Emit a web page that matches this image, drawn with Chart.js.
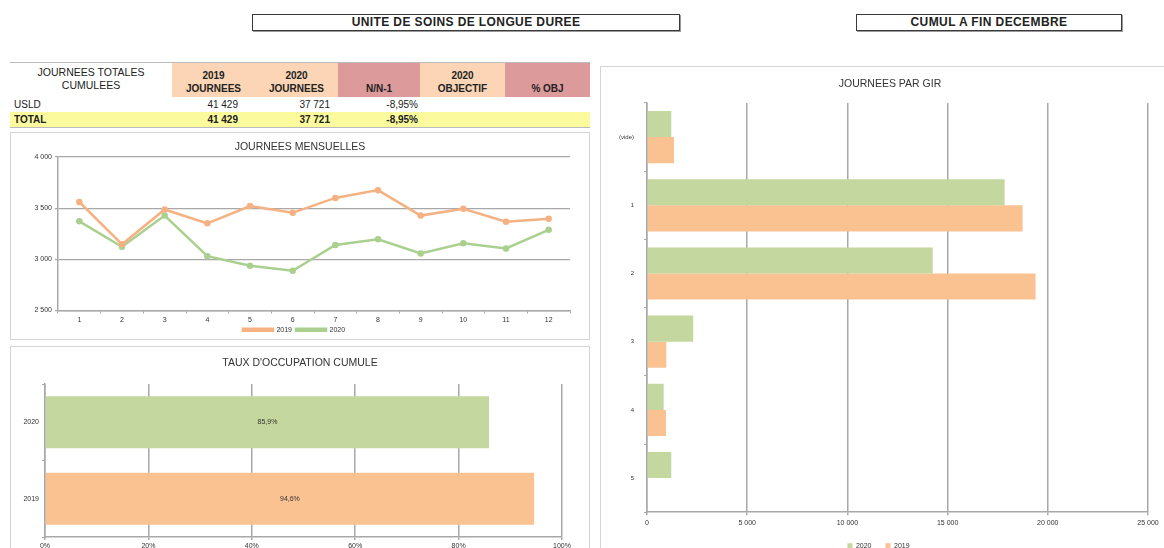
<!DOCTYPE html>
<html>
<head>
<meta charset="utf-8">
<script src="https://cdn.jsdelivr.net/npm/chart.js@4.4.0/dist/chart.umd.min.js"></script>
<style>
  body { margin:0; width:1164px; height:548px; overflow:hidden; background:#fff; font-family:"Liberation Sans", Arial, sans-serif; color:#222; }
  .hbox { position:absolute; top:14px; height:15px; border:1px solid #3a3a3a; box-shadow:1px 1px 0 #999; font-weight:bold; font-size:12px; letter-spacing:0.4px; line-height:15px; text-align:center; }
  .panel { position:absolute; border:1px solid #d4d4d4; background:#fff; }
  .panel canvas { position:absolute; left:0; top:0; }
  .ptitle { position:absolute; left:0; right:0; text-align:center; font-size:10.5px; color:#333; z-index:2; }
  table { position:absolute; left:10px; top:62px; width:580px; border-collapse:collapse; font-size:10px; border-top:1px solid #bbb; border-bottom:1px solid #bbb; }
  td { padding:0 4px; height:15px; line-height:13px; }
  .pe { background:#fbd5b5; }
  .ro { background:#dc9a9b; }
  .hd td { font-weight:bold; text-align:center; vertical-align:bottom; height:32px; padding-bottom:2px; }
  .num { text-align:right; }
  .c1 { padding-right:17px; }
  .c2 { padding-right:8px; }
  .c3 { padding-right:2px; }
  .tot td { background:#fbfb9e; font-weight:bold; }
</style>
</head>
<body>
<div class="hbox" style="left:252px;width:426px;">UNITE DE SOINS DE LONGUE DUREE</div>
<div class="hbox" style="left:856px;width:264px;">CUMUL A FIN DECEMBRE</div>

<table>
  <tr class="hd">
    <td style="width:154px;font-weight:normal;vertical-align:middle;font-size:10.5px;">JOURNEES TOTALES<br>CUMULEES</td>
    <td class="pe" style="width:75px;">2019<br>JOURNEES</td>
    <td class="pe" style="width:75px;">2020<br>JOURNEES</td>
    <td class="ro" style="width:74px;">N/N-1</td>
    <td class="pe" style="width:77px;">2020<br>OBJECTIF</td>
    <td class="ro">% OBJ</td>
  </tr>
  <tr><td>USLD</td><td class="num c1" id="u19"></td><td class="num c2" id="u20"></td><td class="num c3" id="uev"></td><td></td><td></td></tr>
  <tr class="tot"><td>TOTAL</td><td class="num c1" id="t19"></td><td class="num c2" id="t20"></td><td class="num c3" id="tev"></td><td></td><td></td></tr>
</table>

<div class="panel" style="left:10px;top:132px;width:578px;height:206px;">
  <div class="ptitle" style="top:7px;">JOURNEES MENSUELLES</div>
  <canvas id="lineChart"></canvas>
</div>

<div class="panel" style="left:10px;top:346px;width:578px;height:210px;">
  <div class="ptitle" style="top:9px;">TAUX D'OCCUPATION CUMULE</div>
  <canvas id="occChart"></canvas>
</div>

<div class="panel" style="left:600px;top:66px;width:578px;height:518px;">
  <div class="ptitle" style="top:10px;">JOURNEES PAR GIR</div>
  <canvas id="girChart"></canvas>
</div>

<script>
// monthly days
const months = ['1','2','3','4','5','6','7','8','9','10','11','12'];
const days2019 = [3560,3146,3487,3351,3520,3454,3600,3676,3427,3494,3368,3395];
const days2020 = [3371,3122,3427,3030,2937,2888,3139,3196,3057,3156,3106,3288];
const lineTicks = [2500,3000,3500,4000];

// totals in the table
const total2019 = 41429;
const total2020 = 37721;

// occupation rate
const occYears = ['2020','2019'];
const occRates = [85.9,94.6];
const occTicks = [0,20,40,60,80,100];

// days by GIR
const girLabels = ['(vide)','1','2','3','4','5'];
const gir2020 = [1211,17846,14257,2308,832,1211];
const gir2019 = [1346,18744,19392,963,947,37];
const girTicks = [0,5000,10000,15000,20000,25000];

const orange = '#f6b183', orangeBar = '#fac191';
const green = '#a9d08e', greenBar = '#c4d79e';
const gridCol = '#a8a8a8';
const tickFont = {size:7, family:'Liberation Sans, Arial'};

function fmt(n){ return String(n).replace(/\B(?=(\d{3})+(?!\d))/g,' '); }

const ev = ((total2020-total2019)/total2019*100).toFixed(2).replace('.',',')+'%';
document.getElementById('u19').textContent = fmt(total2019);
document.getElementById('u20').textContent = fmt(total2020);
document.getElementById('uev').textContent = ev;
document.getElementById('t19').textContent = fmt(total2019);
document.getElementById('t20').textContent = fmt(total2020);
document.getElementById('tev').textContent = ev;

Chart.defaults.font.family = 'Liberation Sans, Arial, sans-serif';
Chart.defaults.color = '#333';
Chart.defaults.animation = false;

function sizeCanvas(id, h){
  const c = document.getElementById(id);
  const p = c.parentElement;
  c.style.width = p.clientWidth+'px';
  c.style.height = (h || p.clientHeight)+'px';
  return c;
}

// line chart
new Chart(sizeCanvas('lineChart', 212),{
  type:'line',
  data:{
    labels:months,
    datasets:[
      {label:'2019', data:days2019, borderColor:orange, backgroundColor:orange, borderWidth:2.5, pointRadius:2, pointBackgroundColor:orange, tension:0},
      {label:'2020', data:days2020, borderColor:green, backgroundColor:green, borderWidth:2.5, pointRadius:2, pointBackgroundColor:green, tension:0}
    ]
  },
  options:{
    responsive:false,
    layout:{padding:{left:7,right:19,top:24,bottom:1.8}},
    plugins:{
      legend:{position:'bottom', labels:{boxWidth:30, boxHeight:2, padding:4, font:{size:7}}},
      tooltip:{enabled:false}
    },
    scales:{
      x:{
        offset:true,
        afterFit:(s)=>{ s.height = 11.8; },
        grid:{display:true, offset:true, drawOnChartArea:false, color:gridCol, tickLength:3},
        border:{color:gridCol, width:1.5},
        ticks:{font:tickFont, padding:2}
      },
      y:{
        min:2500, max:4000,
        afterBuildTicks:(s)=>{ s.ticks = lineTicks.map(v=>({value:v})); },
        afterFit:(s)=>{ s.width = 40; },
        grid:{color:gridCol, lineWidth:1.2, tickLength:3},
        border:{color:gridCol, width:1.5},
        ticks:{font:tickFont, callback:(v)=>fmt(v)}
      }
    }
  }
});

// bar value labels
const valueLabels = {
  id:'valueLabels',
  afterDatasetsDraw(chart){
    const ctx = chart.ctx;
    ctx.save();
    ctx.font = '7px Liberation Sans, Arial';
    ctx.fillStyle = '#333';
    ctx.textAlign = 'center';
    ctx.textBaseline = 'middle';
    chart.getDatasetMeta(0).data.forEach((bar,i)=>{
      const v = chart.data.datasets[0].data[i];
      ctx.fillText(v.toFixed(1).replace('.',',')+'%', (bar.x+bar.base)/2, bar.y);
    });
    ctx.restore();
  }
};

// occupation
new Chart(sizeCanvas('occChart'),{
  type:'bar',
  data:{
    labels:occYears,
    datasets:[{data:occRates, backgroundColor:[greenBar,orangeBar], barPercentage:0.68, categoryPercentage:1}]
  },
  options:{
    indexAxis:'y',
    responsive:false,
    layout:{padding:{left:6,right:27,top:37,bottom:0}},
    plugins:{legend:{display:false}, tooltip:{enabled:false}},
    scales:{
      x:{
        min:0, max:100,
        afterBuildTicks:(s)=>{ s.ticks = occTicks.map(v=>({value:v})); },
        afterFit:(s)=>{ s.height = 20; },
        grid:{color:gridCol, lineWidth:1.5, tickLength:3},
        border:{color:gridCol, width:1.5},
        ticks:{font:tickFont, padding:2, callback:(v)=>v+'%'}
      },
      y:{
        afterFit:(s)=>{ s.width = 28; },
        grid:{display:true, drawOnChartArea:false, color:gridCol, tickLength:3},
        border:{color:gridCol, width:1.5},
        ticks:{font:tickFont}
      }
    }
  },
  plugins:[valueLabels]
});

// GIR
new Chart(sizeCanvas('girChart'),{
  type:'bar',
  data:{
    labels:girLabels,
    datasets:[
      {label:'2020', data:gir2020, backgroundColor:greenBar, barPercentage:1, categoryPercentage:0.765},
      {label:'2019', data:gir2019, backgroundColor:orangeBar, barPercentage:1, categoryPercentage:0.765}
    ]
  },
  options:{
    indexAxis:'y',
    responsive:false,
    layout:{padding:{left:8,right:31,top:36,bottom:25.8}},
    plugins:{
      legend:{position:'bottom', labels:{boxWidth:5, boxHeight:5, padding:14, font:{size:7}}},
      tooltip:{enabled:false}
    },
    scales:{
      x:{
        min:0, max:25000,
        afterBuildTicks:(s)=>{ s.ticks = girTicks.map(v=>({value:v})); },
        afterFit:(s)=>{ s.height = 16; },
        grid:{color:gridCol, lineWidth:1.5, tickLength:3},
        border:{color:gridCol, width:1.5},
        ticks:{font:tickFont, padding:4, callback:(v)=>fmt(v)}
      },
      y:{
        afterFit:(s)=>{ s.width = 38; },
        grid:{display:true, drawOnChartArea:false, color:gridCol, tickLength:3},
        border:{color:gridCol, width:1.5},
        ticks:{font:{size:6}, padding:10}
      }
    }
  }
});
</script>
</body>
</html>
